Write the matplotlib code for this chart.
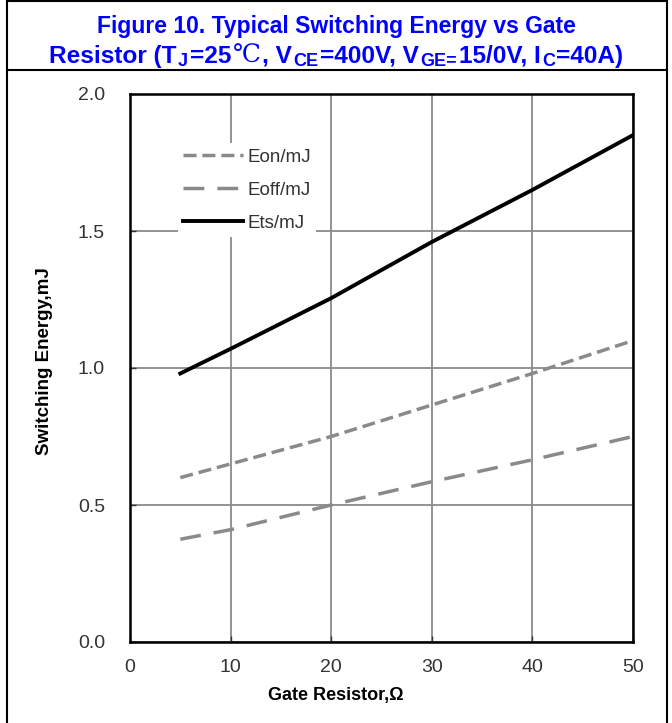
import matplotlib
matplotlib.use("Agg")
import matplotlib.pyplot as plt
from matplotlib.lines import Line2D
from matplotlib.transforms import IdentityTransform

plt.rcParams['font.family'] = ['Liberation Sans', 'DejaVu Sans']

# gate resistor (ohm) and switching energy (mJ)
rg = [5, 10, 20, 30, 40, 50]
eon = [0.60, 0.65, 0.75, 0.865, 0.98, 1.10]
eoff = [0.375, 0.41, 0.50, 0.585, 0.665, 0.75]
ets = [0.98, 1.07, 1.255, 1.46, 1.65, 1.85]

xticks = [0, 10, 20, 30, 40, 50]
yticks = [0.0, 0.5, 1.0, 1.5, 2.0]

fig = plt.figure(figsize=(6.72, 7.23), dpi=100)
W, H = 672, 723

# table-like border of the datasheet figure
def fline(x0, y0, x1, y1):
    fig.add_artist(Line2D([x0 / W, x1 / W], [1 - y0 / H, 1 - y1 / H],
                          color='black', lw=1.5, transform=fig.transFigure))
fline(7, 1, 667, 1)
fline(7, 70, 667, 70)
fline(7, 0, 7, 723)
fline(667, 0, 667, 723)

# title built from pieces so the subscripts and the ℃ sign look right
blue = '#0000ff'
T1 = 16.5
T2 = 17.6
SS = 13
bold = ['Liberation Sans', 'DejaVu Sans']
serif = ['Liberation Serif', 'DejaVu Serif']
line1 = [('Figure 10. Typical Switching Energy vs Gate', T1, 0, bold, 'bold')]
line2 = [('Resistor (T', T2, 0, bold, 'bold'),
         ('J', SS, -3, bold, 'bold'),
         ('=25', T2, 0, bold, 'bold'),
         ('℃', 18, 0, serif, 'normal'),
         (', V', T2, 0, bold, 'bold'),
         ('CE', SS, -3, bold, 'bold'),
         ('=400V, V', T2, 0, bold, 'bold'),
         ('GE=', SS, -3, bold, 'bold'),
         ('15/0V, I', T2, 0, bold, 'bold'),
         ('C', SS, -3, bold, 'bold'),
         ('=40A)', T2, 0, bold, 'bold')]

renderer = fig.canvas.get_renderer()

def title_line(pieces, cx, base_y):
    texts = []
    for s, size, dy, fam, wt in pieces:
        t = fig.text(0, 0, s, fontsize=size, family=fam, fontweight=wt,
                     color=blue, ha='left', va='baseline',
                     transform=IdentityTransform())
        texts.append((t, dy))
    widths = [t.get_window_extent(renderer).width + 1.5 for t, _ in texts]
    x = cx - sum(widths) / 2
    for (t, dy), w in zip(texts, widths):
        t.set_position((x, base_y + dy))
        x += w

title_line(line1, 337, H - 33)
title_line(line2, 337, H - 63)

ax = fig.add_axes([130 / W, 1 - 642 / H, (633 - 130) / W, (642 - 94) / H])

gray = '#8a8a8a'
ax.plot(rg, eon, color=gray, lw=2.5, dashes=(3.75, 1.7), label='Eon/mJ')
ax.plot(rg, eoff, color=gray, lw=2.5, dashes=(6.0, 3.75), label='Eoff/mJ')
ax.plot(rg, ets, color='black', lw=2.8, label='Ets/mJ')

ax.set_xlim(0, 50)
ax.set_ylim(0, 2.0)
ax.set_xticks(xticks)
ax.set_yticks(yticks)
ax.set_yticklabels([f'{v:.1f}' for v in yticks])
ax.grid(True, color='#8a8a8a', lw=1.3)
ax.set_axisbelow(True)
ax.tick_params(direction='in', length=4, width=1, colors='#333333',
               labelsize=14)
ax.tick_params(axis='y', pad=18)
ax.tick_params(axis='x', pad=12)
for s in ax.spines.values():
    s.set_linewidth(1.8)
    s.set_color('black')

# axis titles are centred on the whole figure, not on the plot area
ax.set_xlabel('Gate Resistor,Ω', fontsize=13, fontweight='bold', labelpad=8)
ax.set_ylabel('Switching Energy,mJ', fontsize=13.5, fontweight='bold', labelpad=18)
ax.xaxis.label.set_x((336 - 130) / 503)
ax.yaxis.label.set_y((642 - 361.5) / 548)

leg = ax.legend(loc='upper left', bbox_to_anchor=(0.095, 0.9105),
                borderaxespad=0, frameon=True, fontsize=13.5,
                handlelength=3.2, handletextpad=0.2, labelspacing=0.84,
                borderpad=0.3, fancybox=False)
leg.get_frame().set_facecolor('white')
leg.get_frame().set_edgecolor('none')
leg.get_frame().set_alpha(1)
for t in leg.get_texts():
    t.set_color('#333333')

fig.savefig('out.png', dpi=100)
